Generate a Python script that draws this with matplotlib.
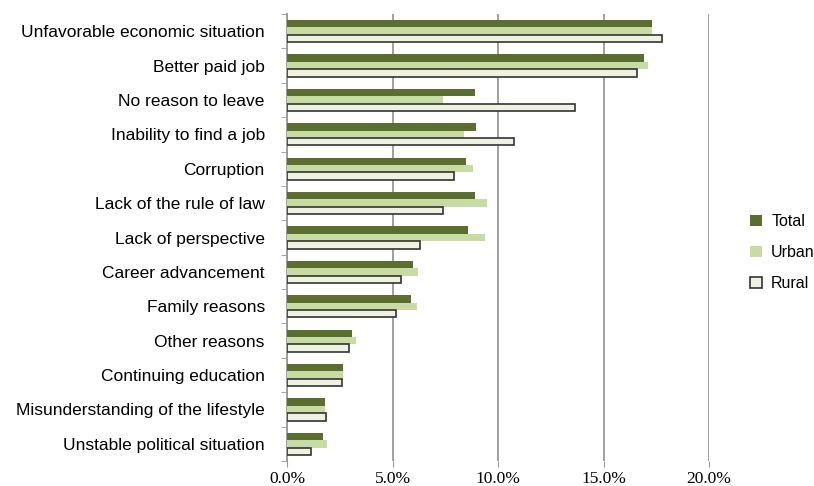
import numpy as np
import matplotlib.pyplot as plt
from matplotlib.ticker import FuncFormatter, FixedLocator

categories = ["Unfavorable economic situation", "Better paid job", "No reason to leave",
              "Inability to find a job", "Corruption", "Lack of the rule of law",
              "Lack of perspective", "Career advancement", "Family reasons",
              "Other reasons", "Continuing education",
              "Misunderstanding of the lifestyle", "Unstable political situation"]
total = [17.3, 16.9, 8.9, 8.95, 8.5, 8.9, 8.6, 5.95, 5.9, 3.1, 2.65, 1.8, 1.7]
urban = [17.3, 17.1, 7.4, 8.4, 8.8, 9.5, 9.4, 6.2, 6.15, 3.25, 2.65, 1.8, 1.9]
rural = [17.75, 16.6, 13.65, 10.75, 7.9, 7.4, 6.3, 5.4, 5.15, 2.95, 2.6, 1.85, 1.15]

fig = plt.figure(figsize=(8.14, 4.86), dpi=100)
ax = fig.add_axes([287/814, 1-461/486, 422/814, 447/486])

y = np.arange(len(categories))
h = 0.215
ax.barh(y - h, total, height=h, color="#5b6d2f", label="Total", zorder=3)
ax.barh(y, urban, height=h, color="#c8dba3", label="Urban", zorder=3)
ax.barh(y + h, rural, height=h, color="#eef3e1", edgecolor="#333333",
        linewidth=1.2, label="Rural", zorder=3)

ax.set_ylim(len(categories) - 0.5, -0.5)
ax.set_xlim(0, 20)
ax.set_xticks([0, 5, 10, 15, 20])
ax.xaxis.set_major_formatter(FuncFormatter(lambda v, p: f"{v:.1f}%"))
ax.tick_params(axis="x", length=4, color="#999999", labelsize=12.5, pad=3)
for t in ax.get_xticklabels():
    t.set_family("Liberation Serif")
ax.grid(axis="x", color="#999999", linewidth=1.3, zorder=0)

ax.set_yticks(y)
ax.set_yticklabels(categories, fontsize=12.5, family="Liberation Sans")
ax.tick_params(axis="y", which="major", length=0, pad=16)
ax.yaxis.set_minor_locator(FixedLocator(np.arange(-0.5, len(categories), 1)))
ax.tick_params(axis="y", which="minor", length=4, color="#999999")

for s in ["top", "right", "bottom"]:
    ax.spines[s].set_visible(False)
ax.spines["left"].set_color("#999999")
ax.spines["left"].set_linewidth(1.3)

leg = fig.legend(loc="upper left", bbox_to_anchor=(736/814, 1-200/486), frameon=False,
                 prop={"family": "Liberation Sans", "size": 11.5},
                 handlelength=0.7, handleheight=0.7, labelspacing=1.0, handletextpad=0.6)

fig.savefig("out.png", dpi=100)
